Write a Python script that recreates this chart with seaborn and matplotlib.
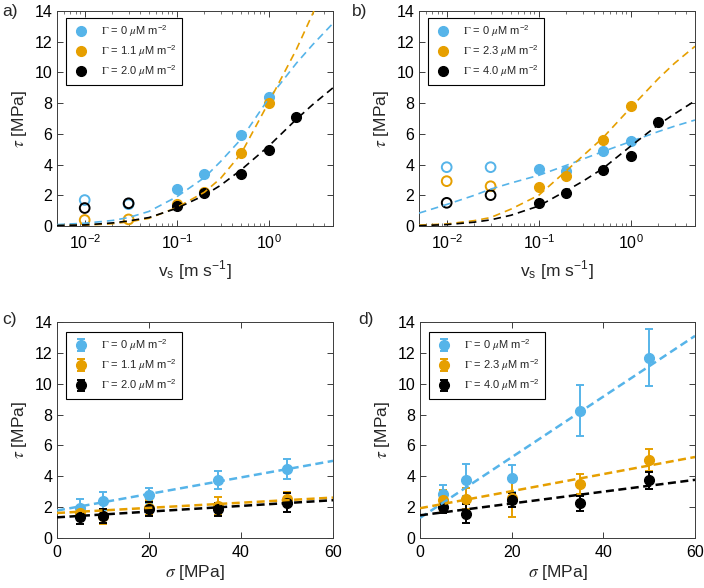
import numpy as np
import pandas as pd
import matplotlib
matplotlib.use("Agg")
import matplotlib.pyplot as plt
import seaborn as sns

# ---------------- data ----------------
BLUE = "#56B4E9"
ORANGE = "#E69F00"
BLACK = "#000000"
colors = [BLUE, ORANGE, BLACK]

labels_ac = [r"$\Gamma$ = 0 $\mu$M m$^{\mathregular{-2}}$",
             r"$\Gamma$ = 1.1 $\mu$M m$^{\mathregular{-2}}$",
             r"$\Gamma$ = 2.0 $\mu$M m$^{\mathregular{-2}}$"]
labels_bd = [r"$\Gamma$ = 0 $\mu$M m$^{\mathregular{-2}}$",
             r"$\Gamma$ = 2.3 $\mu$M m$^{\mathregular{-2}}$",
             r"$\Gamma$ = 4.0 $\mu$M m$^{\mathregular{-2}}$"]

# velocity panels: filled points (v >= 0.1) and open points (v < 0.1)
v_open = [0.01, 0.03]
a_open = [[1.69, 1.42], [0.39, 0.43], [1.17, 1.48]]
b_open = [[3.83, 3.83], [2.92, 2.59], [1.51, 2.01]]

v_fill_a = [[0.1, 0.2, 0.5, 1.0], [0.1, 0.2, 0.5, 1.0], [0.1, 0.2, 0.5, 1.0, 2.0]]
a_fill = [[2.38, 3.39, 5.90, 8.43], [1.45, 2.20, 4.78, 8.02], [1.32, 2.14, 3.39, 4.93, 7.11]]
v_fill_b = [[0.1, 0.2, 0.5, 1.0], [0.1, 0.2, 0.5, 1.0], [0.1, 0.2, 0.5, 1.0, 2.0]]
b_fill = [[3.74, 3.57, 4.89, 5.56], [2.55, 3.24, 5.60, 7.80], [1.51, 2.18, 3.63, 4.54, 6.79]]

# fitted curves
v_fit = [0.005, 0.01, 0.02, 0.03, 0.05, 0.1, 0.2, 0.3, 0.5, 1.0, 2.0, 3.0, 5.0]
v_fit_a_orange = [0.005, 0.01, 0.02, 0.03, 0.05, 0.1, 0.2, 0.3, 0.5, 1.0, 2.0, 3.1]
a_fit = [[0.09, 0.18, 0.36, 0.55, 0.95, 1.90, 3.15, 4.20, 5.65, 8.30, 10.6, 11.8, 13.2],
         [0.02, 0.05, 0.15, 0.27, 0.50, 1.20, 2.20, 3.10, 4.70, 8.05, 11.5, 14.0],
         [0.03, 0.07, 0.20, 0.33, 0.55, 1.15, 2.00, 2.65, 3.65, 5.20, 6.95, 7.90, 9.00]]
b_fit = [[0.84, 1.40, 2.00, 2.40, 2.80, 3.30, 3.95, 4.35, 4.85, 5.50, 6.15, 6.50, 6.90],
         [0.06, 0.13, 0.35, 0.55, 1.10, 2.00, 3.60, 4.55, 5.75, 7.70, 9.60, 10.6, 11.7],
         [0.02, 0.09, 0.25, 0.40, 0.70, 1.30, 2.30, 2.90, 3.75, 5.20, 6.60, 7.30, 8.15]]

# normal stress panels
sigma = [5, 10, 20, 35, 50]
c_tau = [[1.95, 2.42, 2.77, 3.74, 4.46], [1.65, 1.40, 1.97, 2.08, 2.55], [1.34, 1.45, 1.86, 1.85, 2.30]]
c_err = [[0.55, 0.58, 0.50, 0.58, 0.65], [0.45, 0.48, 0.48, 0.57, 0.45], [0.45, 0.45, 0.45, 0.45, 0.60]]
d_tau = [[2.86, 3.77, 3.86, 8.26, 11.68], [2.44, 2.55, 2.60, 3.48, 5.06], [2.00, 1.58, 2.44, 2.25, 3.74]]
d_err = [[0.60, 1.05, 0.85, 1.65, 1.85], [0.70, 0.70, 1.25, 0.65, 0.72], [0.40, 0.62, 0.45, 0.48, 0.54]]
sigma_fit = [0, 60]
c_fit = [[1.78, 5.00], [1.62, 2.62], [1.34, 2.45]]
d_fit = [[1.30, 13.1], [1.93, 5.25], [1.47, 3.77]]

# ---------------- style ----------------
sns.set_theme(style="ticks")
plt.rcParams["font.family"] = ["Liberation Sans", "DejaVu Sans"]
plt.rcParams["mathtext.fontset"] = "stix"
plt.rcParams["xtick.direction"] = "in"
plt.rcParams["ytick.direction"] = "in"
plt.rcParams["xtick.top"] = True
plt.rcParams["ytick.right"] = True

fig = plt.figure(figsize=(7.04, 5.88), dpi=100)
W, H = 704.0, 588.0


def make_ax(l, t, r, b):
    return fig.add_axes([l / W, 1 - b / H, (r - l) / W, (b - t) / H])


ax_a = make_ax(57, 11, 333, 226)
ax_b = make_ax(419, 11, 695, 226)
ax_c = make_ax(57, 322, 333, 538)
ax_d = make_ax(420, 322, 695, 538)

MS = 7.0
TICK_FS = 11.5
LAB_FS = 12.5


def style_common(ax):
    for sp in ax.spines.values():
        sp.set_color("#3c3c3c")
        sp.set_linewidth(0.7)
    ax.tick_params(which="both", colors="#3c3c3c", labelcolor="black", labelsize=TICK_FS)
    ax.tick_params(which="major", length=4, width=0.7)
    ax.tick_params(which="minor", length=2, width=0.5)
    ax.tick_params(axis="x", which="major", pad=5)
    ax.set_ylim(0, 14)
    ax.set_yticks(np.arange(0, 15, 2))
    ax.set_ylabel(r"$\tau$ [MPa]", fontsize=LAB_FS, labelpad=4)


def vel_panel(ax, v_fill, fill, opn, fit, labels, orange_fit_x):
    handles = []
    for i, c in enumerate(colors):
        sns.scatterplot(x=v_open, y=opn[i], ax=ax, s=MS ** 2, color=c,
                        facecolor="none", edgecolor=c, linewidth=1.4, zorder=3)
        h = ax.plot(v_fill[i], fill[i], "o", ms=MS, color=c, mec=c, zorder=3,
                    label=labels[i])[0]
        handles.append(h)
    for i, c in enumerate(colors):
        xs = orange_fit_x if (i == 1 and orange_fit_x is not None) else v_fit
        sns.lineplot(x=xs, y=fit[i], ax=ax, color=c, lw=1.2,
                     linestyle=(0, (4.5, 3.0)), errorbar=None, zorder=4)
    ax.set_xscale("log")
    ax.set_xlim(0.005, 5)
    ax.set_xticks([0.01, 0.1, 1.0])
    ax.set_xticklabels([r"10$^{\mathregular{-2}}$", r"10$^{\mathregular{-1}}$",
                        r"10$^{\mathregular{0}}$"])
    ax.set_xlabel(r"v$_{\mathregular{s}}$ [m s$^{\mathregular{-1}}$]", fontsize=LAB_FS, labelpad=6)
    style_common(ax)
    leg = ax.legend(handles=handles, labels=labels, loc="upper left",
                    bbox_to_anchor=(0.033, 0.967), borderaxespad=0, fontsize=8,
                    frameon=True, fancybox=False, edgecolor="black",
                    handlelength=1.6, handletextpad=1.0, labelspacing=0.4,
                    borderpad=0.5)
    leg.get_frame().set_linewidth(0.8)
    leg.get_frame().set_alpha(1)


def sig_panel(ax, tau, err, fit, labels):
    handles = []
    for i, c in enumerate(colors):
        eb = ax.errorbar(sigma, tau[i], yerr=err[i], fmt="o", ms=MS, color=c,
                         ecolor=c, elinewidth=1.4, capsize=3, capthick=1.4,
                         zorder=3, label=labels[i])
        handles.append(eb)
    for i, c in enumerate(colors):
        sns.lineplot(x=sigma_fit, y=fit[i], ax=ax, color=c, lw=1.8,
                     linestyle=(0, (3.2, 1.8)), errorbar=None, zorder=4)
    ax.set_xlim(0, 60)
    ax.set_xticks([0, 20, 40, 60])
    ax.set_xlabel(r"$\sigma$ [MPa]", fontsize=LAB_FS, labelpad=2)
    style_common(ax)
    leg = ax.legend(handles=handles, labels=labels, loc="upper left",
                    bbox_to_anchor=(0.033, 0.955), borderaxespad=0, fontsize=8,
                    frameon=True, fancybox=False, edgecolor="black",
                    handlelength=1.6, handletextpad=1.0, labelspacing=0.4,
                    borderpad=0.5)
    leg.get_frame().set_linewidth(0.8)
    leg.get_frame().set_alpha(1)


vel_panel(ax_a, v_fill_a, a_fill, a_open, a_fit, labels_ac, v_fit_a_orange)
vel_panel(ax_b, v_fill_b, b_fill, b_open, b_fit, labels_bd, None)
sig_panel(ax_c, c_tau, c_err, c_fit, labels_ac)
sig_panel(ax_d, d_tau, d_err, d_fit, labels_bd)

for txt, x, y in [("a)", 2, 4), ("b)", 352, 4), ("c)", 2, 312), ("d)", 358, 312)]:
    fig.text(x / W, 1 - y / H, txt, fontsize=12.5, ha="left", va="top")

fig.savefig("out.png", dpi=100)
